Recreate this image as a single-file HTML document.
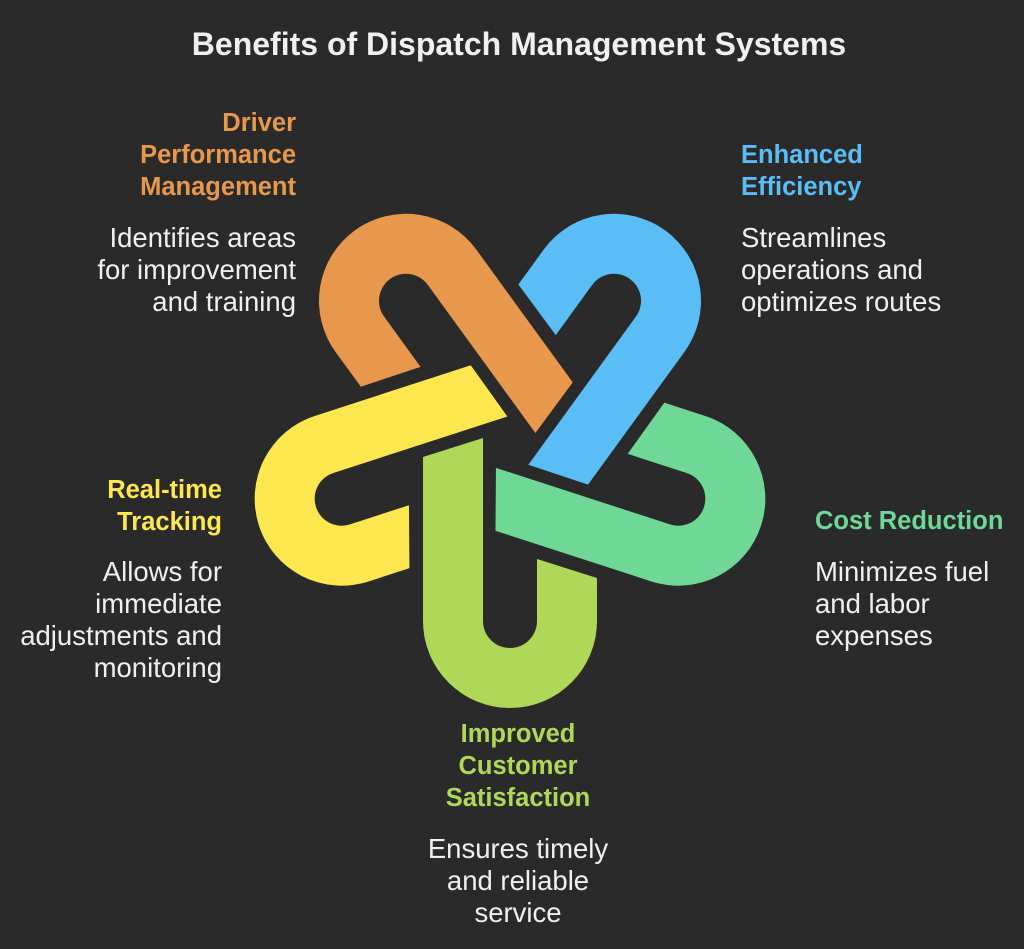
<!DOCTYPE html>
<html><head><meta charset="utf-8"><style>
html,body{margin:0;padding:0}
body{width:1024px;height:949px;background:#2a2a2a;position:relative;overflow:hidden;font-family:"Liberation Sans",sans-serif}
.t{position:absolute;line-height:32px;font-size:27.5px;white-space:nowrap}
.b{font-weight:bold;font-size:25.5px}
.w{color:#f0f0f0}
.r{text-align:right}
.c{text-align:center}
</style></head><body>
<div class="t b w c" style="left:0;width:1038px;top:28px;font-size:32px">Benefits of Dispatch Management Systems</div>
<svg style="position:absolute;left:0;top:0" width="1024" height="949">
<defs><path id="u" d="M -87 13 L -27 -6 L -27 177 A 27 27 0 0 0 27 177 L 27 115 L 87 134 L 87 177 A 87 87 0 0 1 -87 177 Z"/></defs>
<g transform="translate(510,444)">
<use href="#u" fill="#AFD758"/>
<use href="#u" fill="#6FD897" transform="rotate(-72)"/>
<use href="#u" fill="#5BBDF5" transform="rotate(-144)"/>
<use href="#u" fill="#E8984C" transform="rotate(144)"/>
<use href="#u" fill="#FDE74F" transform="rotate(72)"/>
</g>
</svg>
<div class="t b r" style="color:#E8984C;right:728px;top:107px">Driver<br>Performance<br>Management</div>
<div class="t w r" style="right:728px;top:222px">Identifies areas<br>for improvement<br>and training</div>
<div class="t b" style="color:#5BBDF5;left:741px;top:139px">Enhanced<br>Efficiency</div>
<div class="t w" style="left:741px;top:222px">Streamlines<br>operations and<br>optimizes routes</div>
<div class="t b r" style="color:#FDE74F;right:802px;top:474px">Real-time<br>Tracking</div>
<div class="t w r" style="right:802px;top:556px">Allows for<br>immediate<br>adjustments and<br>monitoring</div>
<div class="t b" style="color:#6FD897;left:815px;top:505px">Cost Reduction</div>
<div class="t w" style="left:815px;top:556px">Minimizes fuel<br>and labor<br>expenses</div>
<div class="t b c" style="color:#AFD758;left:398px;width:240px;top:718px">Improved<br>Customer<br>Satisfaction</div>
<div class="t w c" style="left:378px;width:280px;top:833px">Ensures timely<br>and reliable<br>service</div>
</body></html>
